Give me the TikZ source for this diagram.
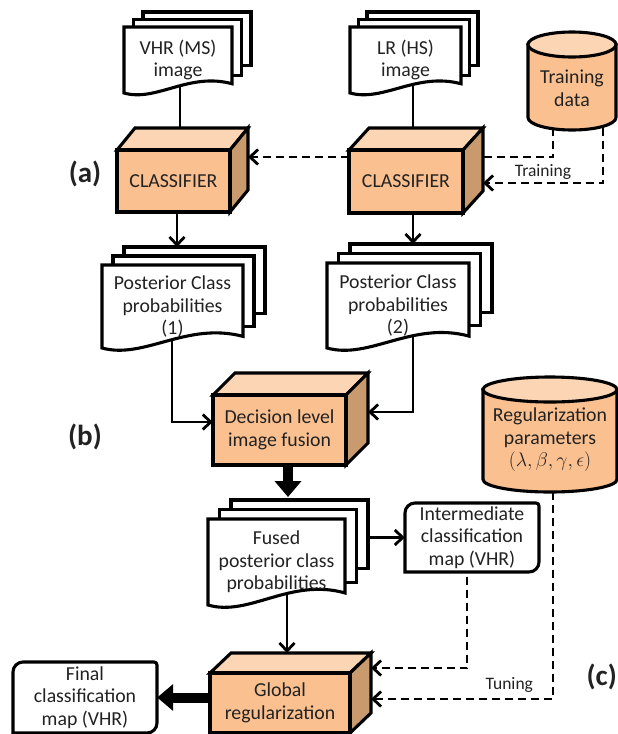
\RequirePackage{fix-cm}
\documentclass[tikz,border=0pt]{standalone}
\usepackage{fontspec}
\setmainfont{Carlito}
\usetikzlibrary{arrows.meta}
\pgfdeclarelayer{bg}
\pgfsetlayers{bg,main}
\definecolor{peach}{HTML}{FAC090}
\definecolor{peachlt}{HTML}{FCD5B5}
\definecolor{peachdk}{HTML}{C99A6E}
\definecolor{txt}{HTML}{222222}
\tikzset{
  shp/.style={draw=black,line width=3.1pt,line join=miter},
  lbl/.style={font=\fontsize{19.8}{22.5}\selectfont,text=txt,align=center,inner sep=0pt},
  smalllbl/.style={font=\fontsize{17.5}{20}\selectfont,text=txt,inner sep=0pt},
  tag/.style={font=\fontsize{29}{30}\selectfont\bfseries,text=txt,inner sep=0pt},
  wire/.style={line width=2.8pt},
  arr/.style={wire,-{Straight Barb[length=8pt,width=15pt]}},
  dsh/.style={dash pattern=on 8pt off 5pt},
  fat/.style={line width=10pt,-{Triangle[length=16pt,width=26pt]}},
}
% name, L, T, R, B, dx, dy, text
\newcommand\docstack[8]{%
  \pgfmathsetmacro\dW{#4-#2}%
  \pgfmathsetmacro\dH{#5-#3}%
  \filldraw[shp,fill=white] ({#2+2*#6},{#3-2*#7}) rectangle ({#4+2*#6},{#5-0.42*\dH});
  \filldraw[shp,fill=white] ({#2+#6},{#3-#7}) rectangle ({#4+#6},{#5-0.26*\dH});
  \filldraw[shp,fill=white] (#2,#3) -- (#4,#3) -- (#4,{#5-0.14*\dH}) .. controls ({#2+0.6*\dW},{#5-0.32*\dH}) and ({#2+0.3*\dW},{#5+0.14*\dH}) .. (#2,#5) -- cycle;
  \node[lbl,minimum width=\dW pt,minimum height=\dH pt] (#1) at ({(#2+#4)/2},{(#3+#5)/2}) {#8};
  \coordinate (#1-top) at ({(#2+#4)/2+#6},{#3-2*#7});
}
% name, L, T, R, B, dx, dy, text
\newcommand\cubebox[8]{%
  \filldraw[shp,fill=peachlt] (#2,#3) -- ({#2+#6},{#3-#7}) -- ({#4+#6},{#3-#7}) -- (#4,#3) -- cycle;
  \filldraw[shp,fill=peachdk] (#4,#3) -- ({#4+#6},{#3-#7}) -- ({#4+#6},{#5-#7}) -- (#4,#5) -- cycle;
  \filldraw[shp,fill=peach] (#2,#3) rectangle (#4,#5);
  \pgfmathsetmacro\dW{#4-#2}%
  \pgfmathsetmacro\dH{#5-#3}%
  \node[lbl,minimum width=\dW pt,minimum height=\dH pt] (#1) at ({(#2+#4)/2},{(#3+#5)/2}) {#8};
  \coordinate (#1-r) at ({#4+#6},{(#3+#5)/2});
  \coordinate (#1-t) at ({(#2+#4)/2},{#3-#7});
}
% name, L, T, R, B, ry, text y, text
\newcommand\cylbox[8]{%
  \pgfmathsetmacro\cx{(#2+#4)/2}%
  \pgfmathsetmacro\rx{(#4-#2)/2}%
  \filldraw[shp,fill=peach] (#2,{#3+#6}) -- (#2,{#5-#6}) .. controls (#2,{#5-#6+0.552*#6}) and ({\cx-0.552*\rx},#5) .. (\cx,#5) .. controls ({\cx+0.552*\rx},#5) and (#4,{#5-#6+0.552*#6}) .. (#4,{#5-#6}) -- (#4,{#3+#6}) -- cycle;
  \filldraw[shp,fill=peachlt] (\cx,{#3+#6}) ellipse [x radius=\rx pt, y radius=#6pt];
  \node[lbl] (#1) at (\cx,#7) {#8};
}
% name, L, T, R, B, text
\newcommand\databox[6]{%
  \pgfmathsetmacro\dW{#4-#2}%
  \pgfmathsetmacro\dH{#5-#3}%
  \filldraw[shp,fill=white] (#2,#5) -- (#2,{#3+10}) .. controls (#2,{#3+4.5}) and ({#2+4.5},#3) .. ({#2+10},#3) -- ({#4-3},#3) .. controls ({#4-1.3},#3) and (#4,{#3+1.3}) .. (#4,{#3+3}) -- (#4,{#5-10}) .. controls (#4,{#5-4.5}) and ({#4-4.5},#5) .. ({#4-10},#5) -- cycle;
  \node[lbl,minimum width=\dW pt,minimum height=\dH pt] (#1) at ({(#2+#4)/2},{(#3+#5)/2}) {#6};
}
\begin{document}
\begin{tikzpicture}[x=1pt,y=-1pt]
\useasboundingbox (0,0) rectangle (618,734);
\docstack{vhr}{124}{27}{232}{93}{9.5}{7.5}{VHR (MS)\\image}
\docstack{lr}{350}{27}{461}{93}{8.5}{7.5}{LR (HS)\\image}
\cylbox{train}{528}{32}{616}{130}{12.5}{88.5}{Training\\data}
\cubebox{clsA}{117}{150}{230}{212}{18}{22}{CLASSIFIER}
\cubebox{clsB}{349}{150}{463}{213}{20}{22}{CLASSIFIER}
\docstack{postA}{102}{265}{243}{348}{11}{9}{Posterior Class\\probabilities\\(1)}
\docstack{postB}{327}{263}{469}{348}{11.5}{9.5}{Posterior Class\\probabilities\\(2)}
\cubebox{fus}{213}{395}{346}{465}{22}{22}{Decision level\\image fusion}
\cylbox{reg}{483}{377}{617}{492}{12.5}{440}{Regularization\\parameters\\$(\lambda,\beta,\gamma,\epsilon)$}
\docstack{fused}{208}{519}{345}{605}{11.5}{9.5}{Fused\\posterior class\\probabilities}
\databox{inter}{405}{503}{539}{572}{Intermediate\\classification\\map (VHR)}
\cubebox{glob}{210}{673}{350}{733}{21}{20}{Global\\regularization}
\databox{final}{13}{662}{157}{733}{Final\\classification\\map (VHR)}
\node[tag] (ta) at (85,174) {(a)};
\node[tag] (tb) at (85,437) {(b)};
\node[tag,anchor=east] (tc) at (617,677) {(c)};
\begin{pgfonlayer}{bg}
\draw[wire] ([xshift=2pt]vhr.center) -- ([xshift=2pt]vhr.center |- clsA.center);
\draw[wire] ([xshift=7.5pt]lr.center) -- ([xshift=7.5pt]lr.center |- clsB.center);
\draw[arr] ([xshift=3.5pt]clsA.center) -- ([xshift=3.5pt]clsA.center |- postA-top);
\draw[arr] ([xshift=7pt]clsB.center) -- ([xshift=7pt]clsB.center |- postB-top);
\draw[arr] ([xshift=-0.5pt]postA.center) |- ([yshift=8pt]fus.west);
\draw[arr] ([xshift=15pt]postB.center) |- ([yshift=18pt]fus-r);
\draw[fat] ([xshift=8.5pt]fus.center) -- ([xshift=8.5pt,yshift=3pt]fus.center |- fused-top);
\draw[arr] (fused.center |- inter.west) -- (inter.west);
\draw[arr] ([xshift=10.5pt]fused.center) -- ([xshift=10.5pt]fused.center |- glob-t);
\draw[fat] (glob.center |- final.east) -- (final.east);
\draw[arr,dsh] ([yshift=24.5pt]clsB.west) -- ([yshift=24.5pt]clsB.west -| clsA-r);
\draw[wire,dsh] ([xshift=-19pt]train.center) |- ([yshift=24.5pt]clsB-r);
\draw[arr,dsh] ([xshift=31pt]train.center) |- node[smalllbl,pos=0.75,above=2pt] (trn) {Training} ([yshift=-1.5pt]clsB-r);
\draw[arr,dsh] ([xshift=-5pt]inter.center) |- ([yshift=35pt]glob-r);
\draw[arr,dsh] ([xshift=3pt]reg.center) |- node[smalllbl,pos=0.62,above=5pt] (tun) {Tuning} ([yshift=4pt]glob-r);
\end{pgfonlayer}
\end{tikzpicture}
\end{document}
